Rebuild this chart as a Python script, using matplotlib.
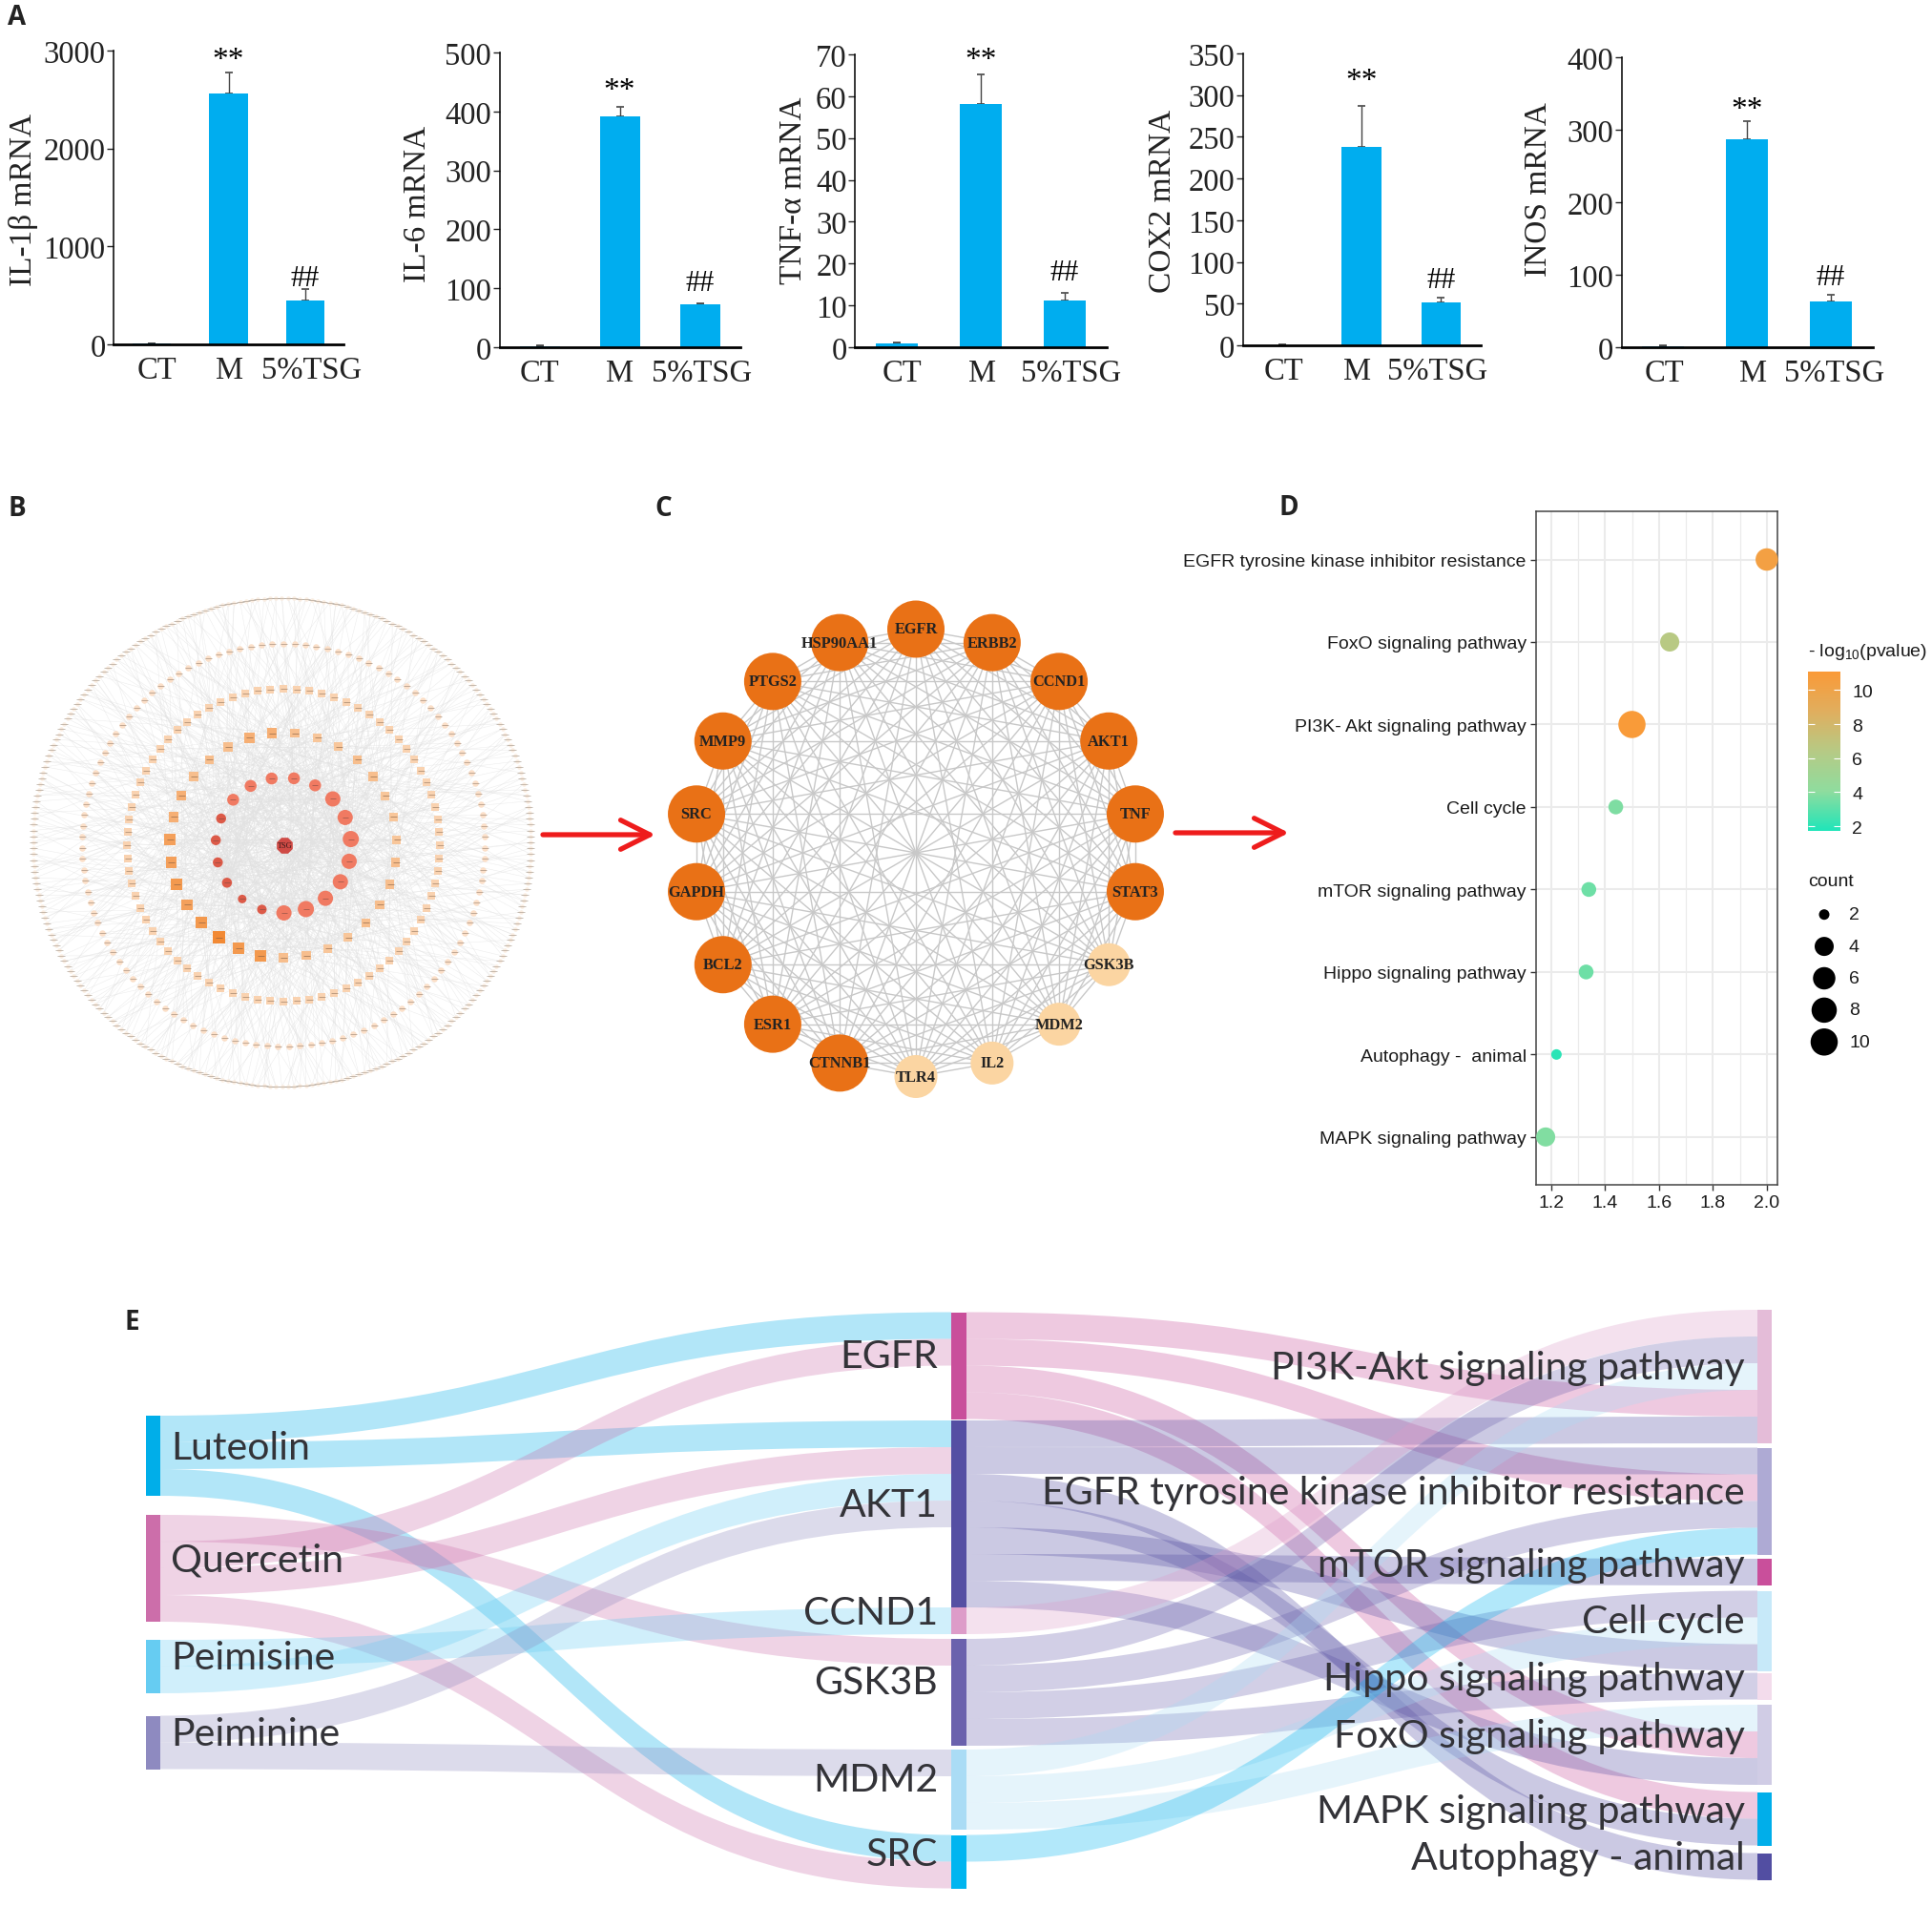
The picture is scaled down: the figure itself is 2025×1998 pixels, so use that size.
import numpy as np
import matplotlib
matplotlib.use('Agg')
import matplotlib.pyplot as plt
from matplotlib.collections import LineCollection
from matplotlib.colors import LinearSegmentedColormap, Normalize
from matplotlib.patches import Circle, FancyArrowPatch, PathPatch, Rectangle
from matplotlib.path import Path

W, H = 2025, 1999

# ---- panel A
a_names = ['IL-1β mRNA', 'IL-6 mRNA', 'TNF-α mRNA', 'COX2 mRNA', 'INOS mRNA']
a_groups = ['CT', 'M', '5%TSG']
a_values = [[8, 2562, 451], [2, 391, 73], [0.9, 58.1, 11.1], [0.5, 237.6, 51], [1.5, 287, 63]]
a_errors = [[6, 214, 113], [1.5, 16, 2], [0.15, 7, 2], [0.7, 50, 5.7], [0.5, 25, 9]]
a_ymax = [3000, 500, 70, 350, 400]
a_ystep = [1000, 100, 10, 50, 100]
a_star_y = [2968, 446, 70.2, 324, 336]
a_hash_y = [688, 111, 18.3, 79.6, 99]
# the group labels do not sit exactly under their bars in the original
a_label_shift = [[0.065, 0.016, 0.08], [0, 0, 0.03], [0.06, 0.015, 0.075],
                 [0.015, -0.06, -0.046], [0.015, 0.073, 0.044]]

# ---- panel B
ring1_sizes = [12.5, 12.5, 16, 16, 17, 16, 16, 16, 17, 16, 10, 9, 10.5, 10.5, 10.5, 10.5, 12.5, 12.5, 12.5]
ring2_sizes = [9.5, 9, 9, 9.5, 9.5, 9, 9, 9, 9.5, 9.5, 9.5, 9.5, 9, 9, 9.5, 9.5,
               12, 12, 13, 12, 11.5, 12, 11.5, 11.5, 10.5, 10.5, 9.5, 9.5, 9.5, 10.5, 10.5]
ring_counts = [76, 115, 260]

# ---- panel C
c_genes = ['EGFR', 'ERBB2', 'CCND1', 'AKT1', 'TNF', 'STAT3', 'GSK3B', 'MDM2', 'IL2', 'TLR4',
           'CTNNB1', 'ESR1', 'BCL2', 'GAPDH', 'SRC', 'MMP9', 'PTGS2', 'HSP90AA1']
c_light = ['GSK3B', 'MDM2', 'IL2', 'TLR4']

# ---- panel D
d_terms = ['MAPK signaling pathway', 'Autophagy -  animal', 'Hippo signaling pathway',
           'mTOR signaling pathway', 'Cell cycle', 'PI3K- Akt signaling pathway',
           'FoxO signaling pathway', 'EGFR tyrosine kinase inhibitor resistance']
d_ratio = [1.18, 1.22, 1.33, 1.34, 1.44, 1.50, 1.64, 2.00]
d_pvalue = [3.8, 2.0, 3.4, 3.4, 3.7, 11.0, 6.5, 10.4]
d_count = [4, 2, 3, 3, 3, 10, 4, 6]
d_legend_counts = [2, 4, 6, 8, 10]
d_legend_diam = [11, 20, 23.5, 26.5, 28.5]

# ---- panel E
e_left = ['Luteolin', 'Quercetin', 'Peimisine', 'Peiminine']
e_mid = ['EGFR', 'AKT1', 'CCND1', 'GSK3B', 'MDM2', 'SRC']
e_right = ['PI3K-Akt signaling pathway', 'EGFR tyrosine kinase inhibitor resistance',
           'mTOR signaling pathway', 'Cell cycle', 'Hippo signaling pathway',
           'FoxO signaling pathway', 'MAPK signaling pathway', 'Autophagy - animal']
# links in the order they leave each source node
e_links_left = [('Luteolin', 'EGFR'), ('Luteolin', 'AKT1'), ('Luteolin', 'SRC'),
                ('Quercetin', 'GSK3B'), ('Quercetin', 'EGFR'), ('Quercetin', 'AKT1'), ('Quercetin', 'SRC'),
                ('Peimisine', 'CCND1'), ('Peimisine', 'AKT1'),
                ('Peiminine', 'AKT1'), ('Peiminine', 'MDM2')]
e_links_right = [('EGFR', 'PI3K'), ('EGFR', 'res'), ('EGFR', 'FoxO'), ('EGFR', 'MAPK'),
                 ('AKT1', 'PI3K'), ('AKT1', 'res'), ('AKT1', 'Auto'), ('AKT1', 'MAPK'),
                 ('AKT1', 'Cell'), ('AKT1', 'mTOR'), ('AKT1', 'FoxO'),
                 ('CCND1', 'PI3K'),
                 ('GSK3B', 'PI3K'), ('GSK3B', 'res'), ('GSK3B', 'Cell'), ('GSK3B', 'Hippo'),
                 ('MDM2', 'PI3K'), ('MDM2', 'Cell'), ('MDM2', 'FoxO'),
                 ('SRC', 'res')]
# order the links arrive at each target node, top to bottom
e_in_mid = {'EGFR': ['Luteolin', 'Quercetin'], 'AKT1': ['Luteolin', 'Quercetin', 'Peimisine', 'Peiminine'],
            'CCND1': ['Peimisine'], 'GSK3B': ['Quercetin'], 'MDM2': ['Peiminine'], 'SRC': ['Luteolin', 'Quercetin']}
e_in_right = {'PI3K': ['CCND1', 'GSK3B', 'MDM2', 'EGFR', 'AKT1'], 'res': ['AKT1', 'EGFR', 'GSK3B', 'SRC'],
              'mTOR': ['AKT1'], 'Cell': ['GSK3B', 'MDM2', 'AKT1'], 'Hippo': ['GSK3B'],
              'FoxO': ['MDM2', 'EGFR', 'AKT1'], 'MAPK': ['EGFR', 'AKT1'], 'Auto': ['AKT1']}
e_right_keys = ['PI3K', 'res', 'mTOR', 'Cell', 'Hippo', 'FoxO', 'MAPK', 'Auto']
e_left_units = [3, 4, 2, 2]
e_mid_units = [4, 7, 1, 4, 3, 2]
e_right_units = [5, 4, 1, 3, 1, 3, 2, 1]
e_left_colors = ['#00aee9', '#cc6eaa', '#66ccf2', '#8e8ac0']
e_mid_colors = ['#c94f9b', '#554fa3', '#dd9cc9', '#6b62ad', '#aadcf5', '#00b5f0']
e_right_colors = ['#e4bcd8', '#aeaad4', '#c94f9b', '#c7e9f9', '#f3dcec', '#d0cce5', '#00aeea', '#524ea2']

plt.rcParams['mathtext.default'] = 'regular'
fig = plt.figure(figsize=(W / 100, H / 100), dpi=100)


def px_axes(x0, y0, x1, y1):
    return fig.add_axes([x0 / W, 1 - y1 / H, (x1 - x0) / W, (y1 - y0) / H])


def fig_text(x, y, s, **kw):
    return fig.text(x / W, 1 - y / H, s, **kw)


for lab, x, y in [('A', 18, 19), ('B', 18, 534), ('C', 695, 534), ('D', 1351, 533), ('E', 138, 1386)]:
    fig_text(x, y, lab, family='Open Sans', weight='bold', fontsize=20, ha='center', va='center', color='#222222')

# A: five bar charts
a_boxes = [(119, 54, 360, 362), (523.5, 56, 775.5, 365), (896, 58, 1160, 365),
           (1302.5, 57, 1552, 363), (1699.5, 61, 1963, 365)]
a_ylabel_pos = [(25, 210), (438, 214), (832, 200), (1218.5, 211), (1613, 199)]
for i, box in enumerate(a_boxes):
    ax = px_axes(*box)
    x = np.arange(3)
    ax.errorbar(x, a_values[i], yerr=[[0, 0, 0], a_errors[i]], fmt='none', ecolor='#444444',
                elinewidth=1, capsize=3, capthick=1.2, zorder=1)
    ax.bar(x, a_values[i], width=0.5, color='#00adef', zorder=2)
    ax.set_xlim(-0.5, 2.5)
    ax.set_ylim(0, a_ymax[i])
    ax.set_yticks(np.arange(0, a_ymax[i] + 1, a_ystep[i]))
    ax.set_xticks(x + np.array(a_label_shift[i]))
    ax.set_xticklabels(a_groups, family='Liberation Serif', fontsize=23.5)
    for t in ax.get_yticklabels():
        t.set_family('Liberation Serif')
        t.set_fontsize(23.5)
    ax.tick_params(axis='y', length=5, width=1, pad=1, color='#222222', labelcolor='#222222')
    ax.tick_params(axis='x', length=0, pad=8, labelcolor='#222222')
    ax.spines['top'].set_visible(False)
    ax.spines['right'].set_visible(False)
    ax.spines['left'].set_linewidth(1.1)
    ax.spines['bottom'].set_linewidth(2)
    ax.patch.set_alpha(0)
    ax.annotate('**', (1, a_star_y[i]), xytext=(0, -4.5), textcoords='offset points', family='Liberation Serif',
                fontsize=24, ha='center', va='center', annotation_clip=False)
    ax.annotate('##', (2, a_hash_y[i]), xytext=(0, -1), textcoords='offset points', family='Liberation Serif',
                fontsize=22, ha='center', va='center', annotation_clip=False)
    lx, ly = a_ylabel_pos[i]
    fig_text(lx, ly, a_names[i], family='Liberation Serif', fontsize=24, rotation=90,
             ha='center', va='center', color='#222222')

# B: concentric network, axes units are pixels from the centre
ax = px_axes(17, 607, 577, 1167)
ax.set_xlim(-280, 280)
ax.set_ylim(-280, 280)
ax.axis('off')


def ring(n, rx, ry, start=0.0):
    ang = np.deg2rad(start + 360.0 * np.arange(n) / n)
    return np.c_[rx * np.sin(ang), ry * np.cos(ang)]


r1 = ring(len(ring1_sizes), 71, 71, 9)
r2 = ring(len(ring2_sizes), 119, 118, 5.8)
r3 = ring(ring_counts[0], 164, 164)
r4 = ring(ring_counts[1], 211, 211)
r5 = ring(ring_counts[2], 261, 256) + [-1.5, 3]
hub = np.array([[1.5, 0.0]])

segs = []
for k, p in enumerate(r5):
    segs.append([p, r2[(k * 7) % len(r2)]])
    segs.append([p, r1[(k * 3) % len(r1)]])
for k, p in enumerate(r4):
    segs.append([p, r2[(k * 5) % len(r2)]])
    segs.append([p, r1[(k * 4) % len(r1)]])
for k, p in enumerate(r3):
    segs.append([p, r1[(k * 7) % len(r1)]])
    segs.append([p, r2[(k * 11) % len(r2)]])
for k, p in enumerate(r2):
    segs.append([p, hub[0]])
    segs.append([p, r1[(k * 2) % len(r1)]])
    segs.append([p, r1[(k * 5 + 3) % len(r1)]])
for k, p in enumerate(r1):
    for j in range(len(r1)):
        if (k + j) % 3 == 0:
            segs.append([p, r1[j]])
    segs.append([p, hub[0]])
ax.add_collection(LineCollection(segs, colors='#e2e2e2', linewidths=0.35, alpha=0.7, zorder=1))


def px_s(d):
    return (np.asarray(d) * 0.72) ** 2


ax.scatter(r5[:, 0], r5[:, 1], s=px_s(4.5), c='#f9ece0', lw=0, zorder=2)
ax.scatter(r5[:, 0], r5[:, 1], s=px_s(8), marker='_', c='#a89a8c', lw=0.45, zorder=3)
ax.scatter(r4[:, 0], r4[:, 1], s=px_s(6.5), c='#fbdfc8', lw=0, zorder=2)
ax.scatter(r4[:, 0], r4[:, 1], s=px_s(7), marker='_', c='#a08a78', lw=0.45, zorder=3)
ax.scatter(r3[:, 0], r3[:, 1], s=px_s(7.5), marker='s', c='#f9d2b0', lw=0, zorder=2)
ax.scatter(r3[:, 0], r3[:, 1], s=px_s(7), marker='_', c='#9a7c64', lw=0.45, zorder=3)
orange = LinearSegmentedColormap.from_list('o', ['#f8c69a', '#f28a35'])
ax.scatter(r2[:, 0], r2[:, 1], s=px_s(ring2_sizes), marker='s', c=ring2_sizes, cmap=orange, lw=0, zorder=2)
ax.scatter(r2[:, 0], r2[:, 1], s=px_s(7), marker='_', c='#7e5a40', lw=0.4, zorder=3)
ax.scatter(r1[:, 0], r1[:, 1], s=px_s(ring1_sizes), c=['#f07a62' if d > 11 else '#dc5a48' for d in ring1_sizes],
           lw=0, zorder=2)
ax.scatter(r1[:, 0], r1[:, 1], s=px_s(6), marker='_', c='#7e4a40', lw=0.4, zorder=3)
ax.scatter(hub[:, 0], hub[:, 1], s=px_s(18), marker='8', c='#cf4a45', lw=0, zorder=4)
ax.text(hub[0, 0], hub[0, 1], 'TSG', family='Liberation Serif', fontsize=6, ha='center', va='center',
        color='#3a1a1a', zorder=5)

# C: fully connected ring of 18 genes
ax = px_axes(680, 615, 1240, 1175)
ax.set_xlim(-280, 280)
ax.set_ylim(-280, 280)
ax.set_aspect('equal')
ax.axis('off')
n = len(c_genes)
ang = np.deg2rad(90 - 360.0 * np.arange(n) / n)
cx, cy = 233.5 * np.cos(ang), 234.5 * np.sin(ang)
segs = [[(cx[i], cy[i]), (cx[j], cy[j])] for i in range(n) for j in range(i + 1, n)]
ax.add_collection(LineCollection(segs, colors='#c8c8c8', linewidths=1.0, zorder=1))
for g, px, py in zip(c_genes, cx, cy):
    light = g in c_light
    ax.add_patch(Circle((px, py), 22.5 if light else 30, fc='#fbd5a2' if light else '#e97116', ec='none', zorder=2))
    ax.text(px, py, g, family='Liberation Serif', weight='bold', fontsize=11.8, ha='center', va='center',
            color='#222222', zorder=3)

# red arrows between B, C and D
for x0, x1, y in [(569, 687, 876), (1232, 1351, 874)]:
    fig.add_artist(FancyArrowPatch((x0 / W, 1 - y / H), (x1 / W, 1 - y / H), transform=fig.transFigure,
                                   arrowstyle='->,head_length=2.2,head_width=1.1', mutation_scale=10,
                                   color='#ee1c1c', lw=3.8, shrinkA=0, shrinkB=0))

# D: bubble chart
ax = px_axes(1609.5, 537, 1863, 1243)
grad = LinearSegmentedColormap.from_list('g', ['#1fe5b9', '#8fdc9e', '#b6ca85', '#e0ae5e', '#fa9a38'])
norm = Normalize(1.72, 11.09)
sc = ax.scatter(d_ratio, np.arange(1, 9), s=px_s(np.interp(d_count, d_legend_counts, d_legend_diam)),
                c=d_pvalue, cmap=grad, norm=norm, lw=0, zorder=3, clip_on=False)
ax.set_xlim(1.1426, 2.0395)
ax.set_ylim(0.42, 8.584)
ax.set_xticks([1.2, 1.4, 1.6, 1.8, 2.0])
ax.set_xticks([1.3, 1.5, 1.7, 1.9], minor=True)
ax.set_yticks(np.arange(1, 9))
ax.set_yticklabels(d_terms)
ax.grid(True, which='major', color='#ebebeb', lw=1.5, zorder=0)
ax.grid(True, which='minor', axis='x', color='#ebebeb', lw=0.9, zorder=0)
ax.set_axisbelow(True)
ax.tick_params(axis='both', which='major', length=4, width=1, color='#333333', labelcolor='#1a1a1a',
               labelsize=14, pad=3)
ax.tick_params(axis='x', which='minor', length=0)
for t in ax.get_xticklabels() + ax.get_yticklabels():
    t.set_family('Liberation Sans')
for s in ax.spines.values():
    s.set_color('#444444')
    s.set_linewidth(1.1)

cax = px_axes(1895, 705, 1929, 872)
cb = fig.colorbar(sc, cax=cax, ticks=[2, 4, 6, 8, 10])
cb.outline.set_visible(False)
cax.tick_params(axis='y', which='major', direction='in', left=True, right=True, length=5, width=0.8, color='white',
                labelsize=14, labelcolor='#1a1a1a', pad=9)
for t in cax.get_yticklabels():
    t.set_family('Liberation Sans')
fig_text(1895, 684, '- log$_{10}$(pvalue)', family='Liberation Sans', fontsize=14, ha='left', va='center', color='#1a1a1a')
fig_text(1895, 925, 'count', family='Liberation Sans', fontsize=14, ha='left', va='center', color='#1a1a1a')

lax = px_axes(1895, 943, 1990, 1110)
lax.set_xlim(0, 95)
lax.set_ylim(5.5, 0.5)
lax.axis('off')
lax.scatter([17] * 5, np.arange(1, 6), s=px_s(d_legend_diam), c='black', lw=0)
for k, c in enumerate(d_legend_counts):
    lax.text(43, k + 1, str(c), family='Liberation Sans', fontsize=14, ha='left', va='center', color='#1a1a1a')

# E: sankey, axes units are image pixels
ax = px_axes(0, 1350, W, H)
ax.set_xlim(0, W)
ax.set_ylim(H, 1350)
ax.axis('off')
UNIT = 28.0
col_x = [(152.5, 168), (997, 1013), (1842, 1857)]
left_tops = [1485, 1589, 1720, 1799.5]
mid_tops = [1376.5, 1490, 1686, 1719, 1835, 1924.5]
right_tops = [1374, 1518.5, 1635, 1668.5, 1754.5, 1788, 1879.5, 1943.5]
src_color = dict(zip(e_left + e_mid, e_left_colors + e_mid_colors))


def ribbon(x0, y0, x1, y1, color):
    xm = (x0 + x1) / 2
    verts = [(x0, y0), (xm, y0), (xm, y1), (x1, y1), (x1, y1 + UNIT), (xm, y1 + UNIT), (xm, y0 + UNIT),
             (x0, y0 + UNIT), (x0, y0)]
    codes = [Path.MOVETO, Path.CURVE4, Path.CURVE4, Path.CURVE4, Path.LINETO, Path.CURVE4, Path.CURVE4,
             Path.CURVE4, Path.CLOSEPOLY]
    ax.add_patch(PathPatch(Path(verts, codes), fc=color, ec='none', alpha=0.3, zorder=1))


def draw_links(links, src_tops, dst_tops, arrivals, x0, x1):
    used = {}
    for s, d in links:
        y0 = src_tops[s] + used.get(s, 0) * UNIT
        used[s] = used.get(s, 0) + 1
        y1 = dst_tops[d] + arrivals[d].index(s) * UNIT
        ribbon(x0, y0, x1, y1, src_color[s])


left_map = dict(zip(e_left, left_tops))
mid_map = dict(zip(e_mid, mid_tops))
right_map = dict(zip(e_right_keys, right_tops))
draw_links(e_links_left, left_map, mid_map, e_in_mid, col_x[0][1], col_x[1][0])
draw_links(e_links_right, mid_map, right_map, e_in_right, col_x[1][1], col_x[2][0])

for (x0, x1), tops, units, colors in [(col_x[0], left_tops, e_left_units, e_left_colors),
                                      (col_x[1], mid_tops, e_mid_units, e_mid_colors),
                                      (col_x[2], right_tops, e_right_units, e_right_colors)]:
    for t, u, c in zip(tops, units, colors):
        ax.add_patch(Rectangle((x0, t), x1 - x0, u * UNIT, fc=c, ec='none', zorder=2))

left_lab_y = [1519, 1636, 1739, 1819]
mid_lab_y = [1423, 1579, 1692, 1765, 1867, 1945]
right_lab_y = [1435, 1566, 1642, 1701, 1761, 1821, 1900, 1949]
E_FONT = dict(family='Lato', fontsize=29.5, color='#333338', va='center', zorder=3)
for s, y in zip(e_left, left_lab_y):
    ax.text(179, y, s, ha='left', **E_FONT)
for s, y in zip(e_mid, mid_lab_y):
    ax.text(983, y, s, ha='right', **E_FONT)
for s, y in zip(e_right, right_lab_y):
    ax.text(1829, y, s, ha='right', **E_FONT)

fig.savefig('out.png', dpi=100)
